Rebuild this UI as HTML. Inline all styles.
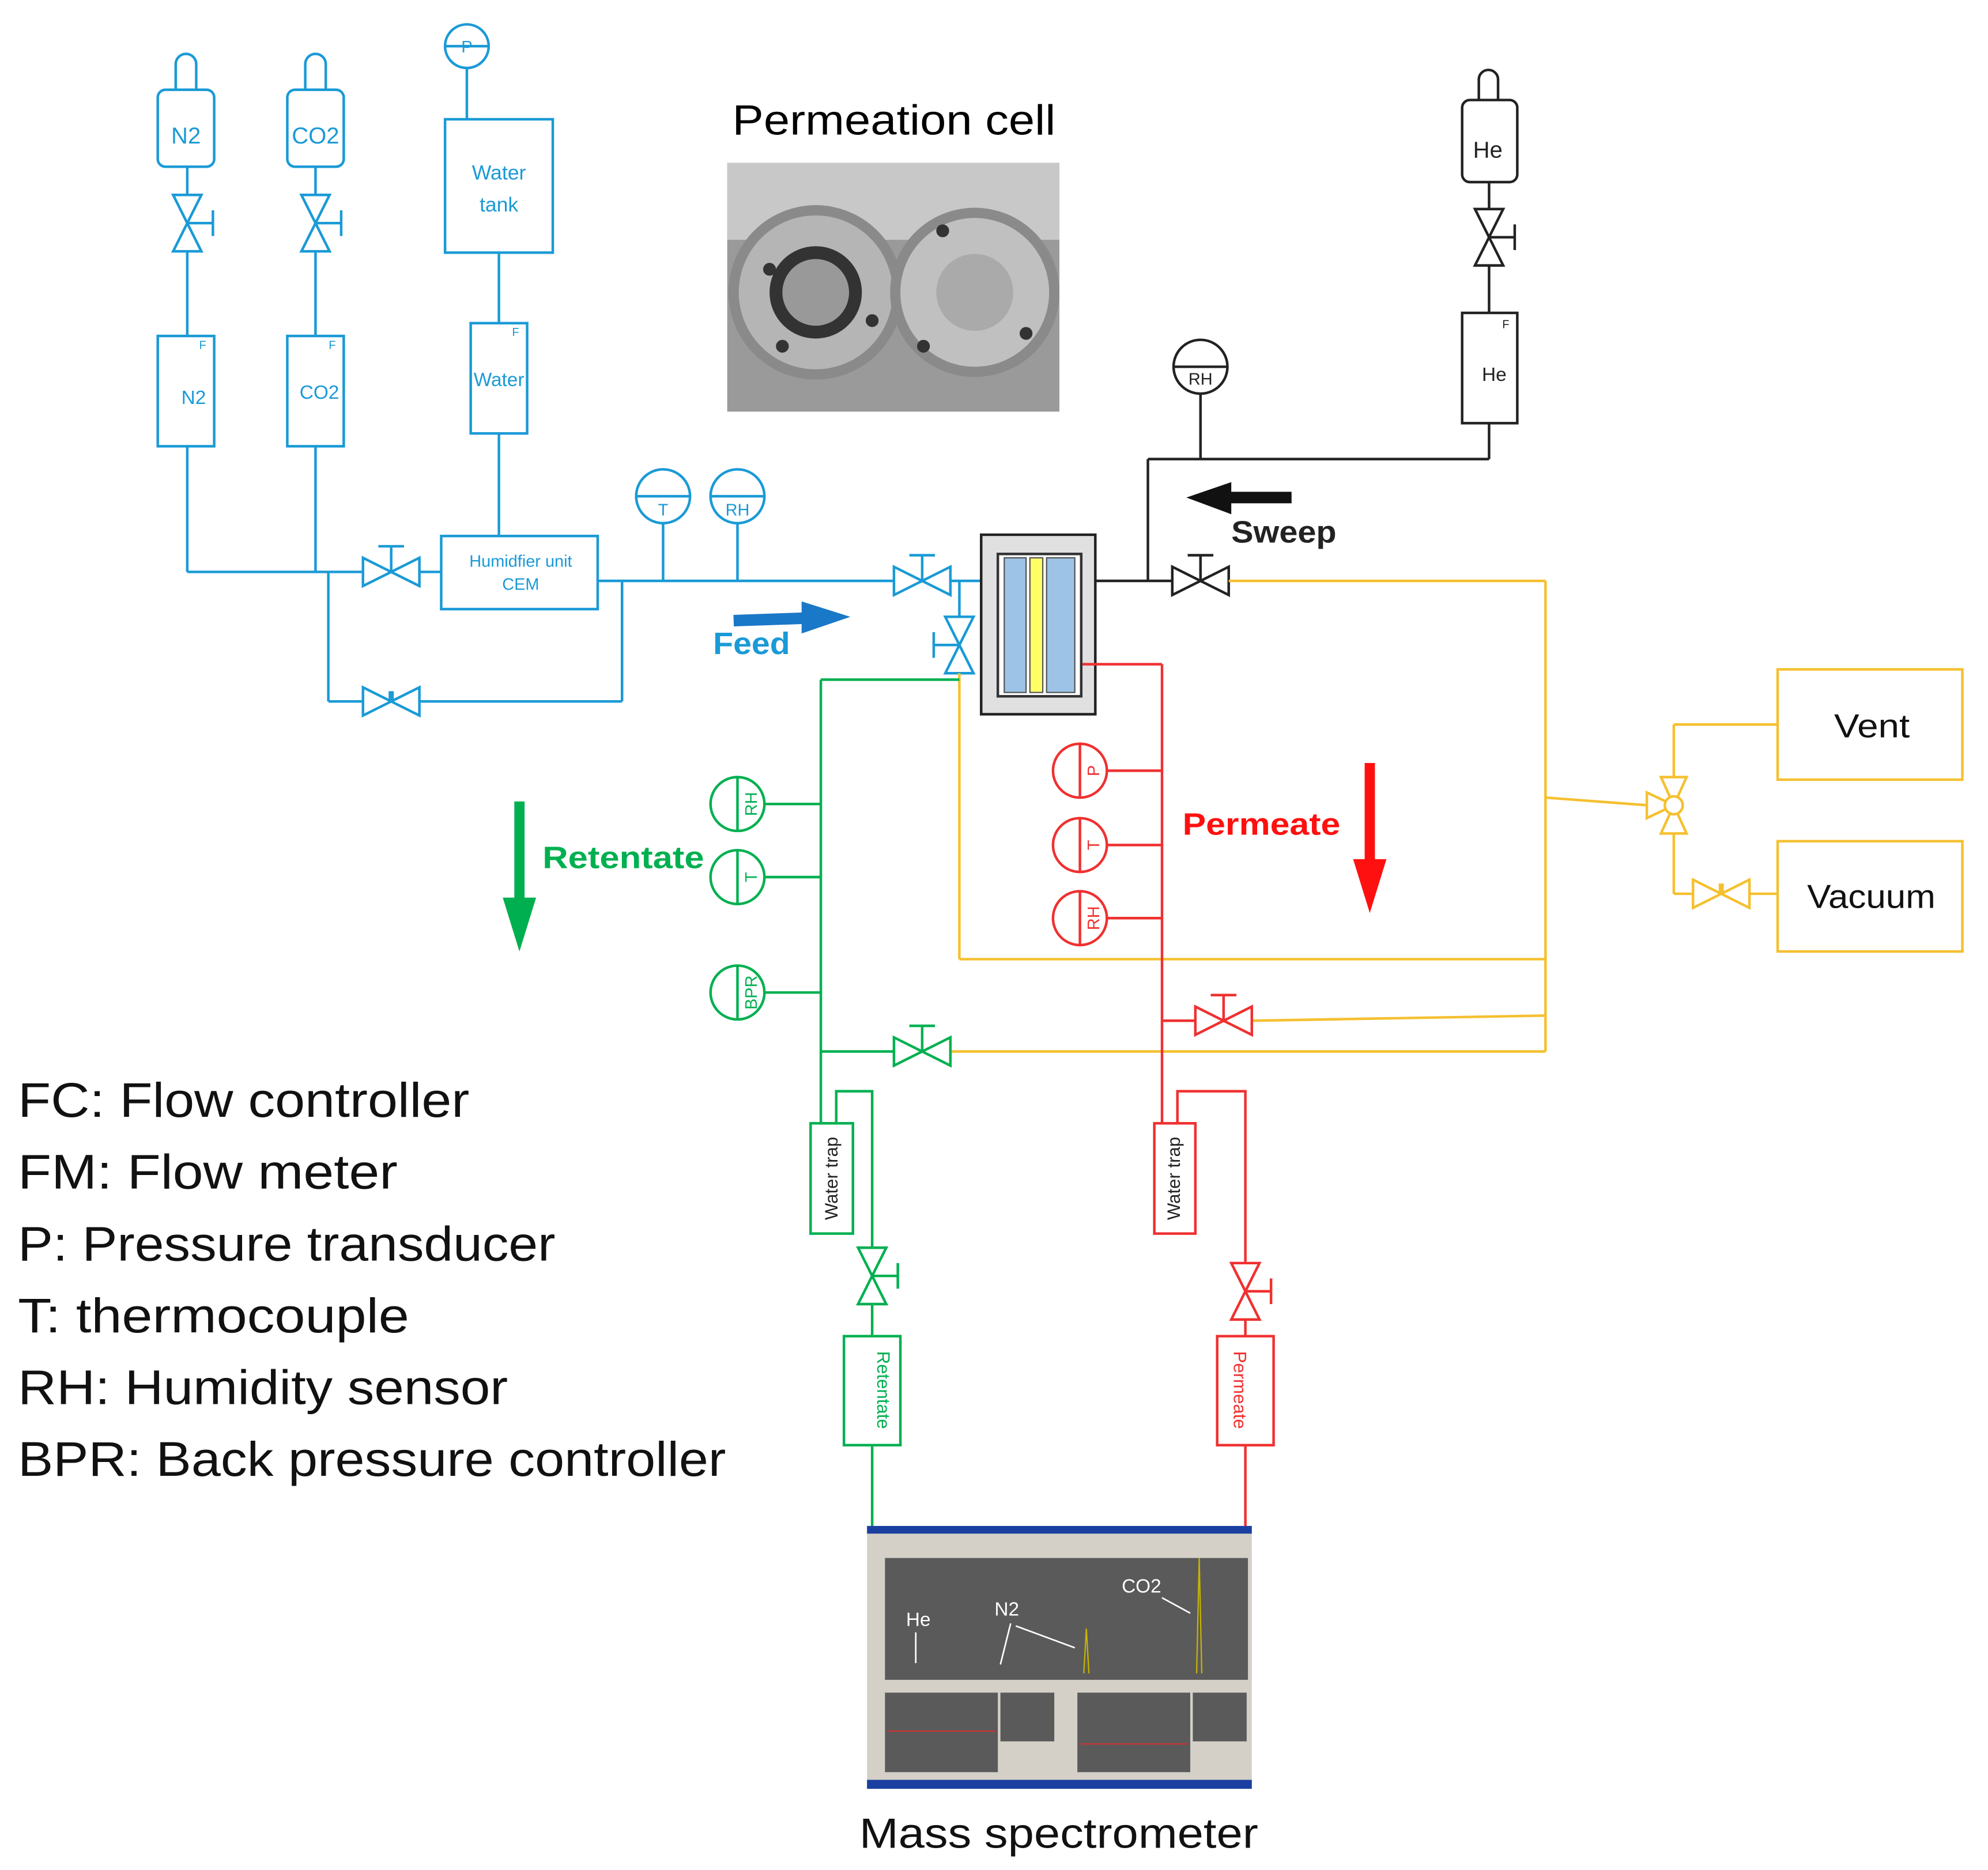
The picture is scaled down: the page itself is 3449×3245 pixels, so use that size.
<!DOCTYPE html>
<html><head><meta charset="utf-8"><style>
html,body{margin:0;padding:0;background:#fff}
svg{display:block}
text{font-family:"Liberation Sans",sans-serif}
</style></head><body>
<svg width="3449" height="3245" viewBox="0 0 1550 1458.3" xmlns="http://www.w3.org/2000/svg">
<defs>
<g id="vv"><polygon points="-11,-22 11,-22 0,0" fill="#fff"/><polygon points="-11,22 11,22 0,0" fill="#fff"/><line x1="0" y1="0" x2="20" y2="0"/><line x1="20" y1="-10" x2="20" y2="10"/></g>
<g id="hv"><polygon points="-22,-11 -22,11 0,0" fill="#fff"/><polygon points="22,-11 22,11 0,0" fill="#fff"/><line x1="0" y1="0" x2="0" y2="-20"/><line x1="-10" y1="-20" x2="10" y2="-20"/></g>
<g id="nv"><polygon points="-22,-11 -22,11 0,0" fill="#fff"/><polygon points="22,-11 22,11 0,0" fill="#fff"/><line x1="0" y1="0" x2="0" y2="-8" stroke-width="4"/></g>
</defs>
<rect width="1550" height="1459" fill="#fff"/>

<!-- BLUE -->
<g stroke="#1a9ad6" stroke-width="2" fill="none">
<path d="M137,70 V50 a8,8 0 0 1 16,0 V70"/>
<rect x="123" y="70" width="44" height="60" rx="6"/>
<line x1="146" y1="130" x2="146" y2="152"/>
<use href="#vv" x="146" y="174"/>
<line x1="146" y1="196" x2="146" y2="262"/>
<rect x="123" y="262" width="44" height="86"/>
<line x1="146" y1="348" x2="146" y2="446"/>
<path d="M238,70 V50 a8,8 0 0 1 16,0 V70"/>
<rect x="224" y="70" width="44" height="60" rx="6"/>
<line x1="246" y1="130" x2="246" y2="152"/>
<use href="#vv" x="246" y="174"/>
<line x1="246" y1="196" x2="246" y2="262"/>
<rect x="224" y="262" width="44" height="86"/>
<line x1="246" y1="348" x2="246" y2="446"/>
<circle cx="364" cy="36" r="17"/><line x1="347" y1="36" x2="381" y2="36"/>
<line x1="364" y1="53" x2="364" y2="93"/>
<rect x="347" y="93" width="84" height="104"/>
<line x1="389" y1="197" x2="389" y2="252"/>
<rect x="367" y="252" width="44" height="86"/>
<line x1="389" y1="338" x2="389" y2="418"/>
<rect x="344" y="418" width="122" height="57"/>
<line x1="146" y1="446" x2="283" y2="446"/>
<use href="#hv" x="305" y="446"/>
<line x1="327" y1="446" x2="344" y2="446"/>
<line x1="256" y1="446" x2="256" y2="547"/>
<line x1="256" y1="547" x2="283" y2="547"/>
<use href="#nv" x="305" y="547"/>
<line x1="327" y1="547" x2="485" y2="547"/>
<line x1="485" y1="453" x2="485" y2="547"/>
<line x1="466" y1="453" x2="697" y2="453"/>
<circle cx="517" cy="387" r="21"/><line x1="496" y1="387" x2="538" y2="387"/><line x1="517" y1="408" x2="517" y2="453"/>
<circle cx="575" cy="387" r="21"/><line x1="554" y1="387" x2="596" y2="387"/><line x1="575" y1="408" x2="575" y2="453"/>
<use href="#hv" x="719" y="453"/>
<line x1="741" y1="453" x2="765" y2="453"/>
<line x1="748" y1="453" x2="748" y2="481"/>
<g transform="translate(748,503) scale(-1,1)"><use href="#vv"/></g>
</g>
<g fill="#1a9ad6" font-size="18" text-anchor="middle">
<text x="145" y="112">N2</text><text x="246" y="112">CO2</text>
<text x="151" y="315" font-size="15">N2</text><text x="249" y="311" font-size="15">CO2</text>
<text x="158" y="272" font-size="9">F</text><text x="259" y="272" font-size="9">F</text><text x="402" y="262" font-size="9">F</text>
<text x="364" y="41" font-size="13">P</text>
<text x="389" y="140" font-size="16">Water</text><text x="389" y="165" font-size="16">tank</text>
<text x="389" y="301" font-size="15">Water</text>
<text x="406" y="442" font-size="13">Humidfier unit</text><text x="406" y="460" font-size="13">CEM</text>
<text x="517" y="402" font-size="13">T</text><text x="575" y="402" font-size="13">RH</text>
<text x="586" y="510" font-size="24" font-weight="bold" textLength="60" lengthAdjust="spacingAndGlyphs">Feed</text>
</g>
<line x1="572" y1="484" x2="630" y2="482" stroke="#1a78c8" stroke-width="9"/>
<polygon points="625,469 663,481 625,494" fill="#1a78c8"/>

<!-- Cell -->
<rect x="765" y="417" width="89" height="140" fill="#e0e0e0" stroke="#222" stroke-width="2"/>
<rect x="778" y="432" width="65" height="111" fill="#fff" stroke="#333" stroke-width="2"/>
<rect x="783" y="435" width="17" height="105" fill="#9dc3e6" stroke="#555"/>
<rect x="803" y="435" width="10" height="105" fill="#ffff66" stroke="#555"/>
<rect x="816" y="435" width="22" height="105" fill="#9dc3e6" stroke="#555"/>

<!-- Photo -->
<text x="571" y="105" font-size="33" textLength="252" lengthAdjust="spacingAndGlyphs">Permeation cell</text>
<rect x="567" y="127" width="259" height="194" fill="#9a9a9a"/>
<rect x="567" y="127" width="259" height="60" fill="#c8c8c8"/>
<circle cx="636" cy="228" r="68" fill="#8a8a8a"/><circle cx="636" cy="228" r="60" fill="#b5b5b5"/>
<circle cx="636" cy="228" r="36" fill="#333"/><circle cx="636" cy="228" r="26" fill="#999"/>
<circle cx="760" cy="228" r="66" fill="#8a8a8a"/><circle cx="760" cy="228" r="58" fill="#c0c0c0"/>
<circle cx="760" cy="228" r="30" fill="#aaa"/>
<g fill="#333"><circle cx="600" cy="210" r="5"/><circle cx="680" cy="250" r="5"/><circle cx="735" cy="180" r="5"/><circle cx="800" cy="260" r="5"/><circle cx="720" cy="270" r="5"/><circle cx="610" cy="270" r="5"/></g>

<!-- BLACK sweep -->
<g stroke="#222" stroke-width="2" fill="none">
<line x1="854" y1="453" x2="914" y2="453"/>
<line x1="895" y1="453" x2="895" y2="358"/>
<line x1="895" y1="358" x2="1161" y2="358"/>
<line x1="1161" y1="358" x2="1161" y2="330"/>
<circle cx="936" cy="286" r="21"/><line x1="915" y1="286" x2="957" y2="286"/><line x1="936" y1="307" x2="936" y2="358"/>
<rect x="1140" y="244" width="43" height="86"/>
<line x1="1161" y1="207" x2="1161" y2="244"/>
<use href="#vv" x="1161" y="185"/>
<line x1="1161" y1="142" x2="1161" y2="163"/>
<path d="M1153,78 V62 a7,7 0 0 1 15,0 V78"/>
<rect x="1140" y="78" width="43" height="64" rx="6"/>
<use href="#hv" x="936" y="453"/>
</g>
<g fill="#222" text-anchor="middle">
<text x="936" y="300" font-size="13">RH</text>
<text x="1165" y="297" font-size="15">He</text>
<text x="1174" y="256" font-size="9">F</text>
<text x="1160" y="123" font-size="18">He</text>
<text x="1001" y="423" font-size="24" font-weight="bold" textLength="82" lengthAdjust="spacingAndGlyphs">Sweep</text>
</g>
<line x1="1007" y1="388" x2="955" y2="388" stroke="#111" stroke-width="9"/>
<polygon points="960,376 925,388 960,401" fill="#111"/>

<!-- YELLOW -->
<g stroke="#f5c030" stroke-width="2" fill="none">
<line x1="958" y1="453" x2="1205" y2="453"/>
<line x1="1205" y1="453" x2="1205" y2="820"/>
<line x1="1205" y1="622" x2="1285" y2="628"/>
<polygon points="1284,618 1284,638 1305,628" fill="#fff"/>
<polygon points="1295,606 1315,606 1305,628" fill="#fff"/>
<polygon points="1295,650 1315,650 1305,628" fill="#fff"/>
<circle cx="1305" cy="628" r="7" fill="#fff"/>
<line x1="1305" y1="606" x2="1305" y2="565"/><line x1="1305" y1="565" x2="1386" y2="565"/>
<line x1="1305" y1="650" x2="1305" y2="697"/><line x1="1305" y1="697" x2="1320" y2="697"/>
<use href="#nv" x="1342" y="697"/>
<line x1="1364" y1="697" x2="1386" y2="697"/>
<rect x="1386" y="522" width="144" height="86"/>
<rect x="1386" y="656" width="144" height="86"/>
<line x1="748" y1="525" x2="748" y2="748"/>
<line x1="748" y1="748" x2="1205" y2="748"/>
<line x1="976" y1="796" x2="1205" y2="792"/>
<line x1="741" y1="820" x2="1205" y2="820"/>
</g>
<g font-size="26" fill="#111">
<text x="1430" y="575" textLength="59" lengthAdjust="spacingAndGlyphs">Vent</text><text x="1409" y="708" textLength="100" lengthAdjust="spacingAndGlyphs">Vacuum</text>
</g>

<!-- GREEN -->
<g stroke="#00b050" stroke-width="2" fill="none">
<line x1="748" y1="530" x2="640" y2="530"/>
<line x1="640" y1="530" x2="640" y2="876"/>
<circle cx="575" cy="627" r="21"/><line x1="575" y1="606" x2="575" y2="648"/><line x1="596" y1="627" x2="640" y2="627"/>
<circle cx="575" cy="684" r="21"/><line x1="575" y1="663" x2="575" y2="705"/><line x1="596" y1="684" x2="640" y2="684"/>
<circle cx="575" cy="774" r="21"/><line x1="575" y1="753" x2="575" y2="795"/><line x1="596" y1="774" x2="640" y2="774"/>
<line x1="640" y1="820" x2="697" y2="820"/>
<use href="#hv" x="719" y="820"/>
<rect x="632" y="876" width="33" height="86"/>
<path d="M652,876 V851 H680 V973"/>
<use href="#vv" x="680" y="995"/>
<line x1="680" y1="1017" x2="680" y2="1042"/>
<rect x="658" y="1042" width="44" height="85"/>
<line x1="680" y1="1127" x2="680" y2="1192"/>
</g>
<g fill="#00b050" font-size="13">
<text transform="translate(590,627) rotate(-90)" text-anchor="middle">RH</text>
<text transform="translate(590,684) rotate(-90)" text-anchor="middle">T</text>
<text transform="translate(590,774) rotate(-90)" text-anchor="middle">BPR</text>
<text transform="translate(653,919) rotate(-90)" text-anchor="middle" font-size="14" fill="#222">Water trap</text>
<text transform="translate(684,1084) rotate(90)" text-anchor="middle" font-size="14">Retentate</text>
<text x="423" y="677" font-size="24" font-weight="bold" textLength="126" lengthAdjust="spacingAndGlyphs">Retentate</text>
</g>
<line x1="405" y1="625" x2="405" y2="705" stroke="#00b050" stroke-width="8"/>
<polygon points="392,700 418,700 405,742" fill="#00b050"/>

<!-- RED -->
<g stroke="#f03030" stroke-width="2" fill="none">
<line x1="844" y1="518" x2="906" y2="518"/>
<line x1="906" y1="518" x2="906" y2="876"/>
<circle cx="842" cy="601" r="21"/><line x1="842" y1="580" x2="842" y2="622"/><line x1="863" y1="601" x2="906" y2="601"/>
<circle cx="842" cy="659" r="21"/><line x1="842" y1="638" x2="842" y2="680"/><line x1="863" y1="659" x2="906" y2="659"/>
<circle cx="842" cy="716" r="21"/><line x1="842" y1="695" x2="842" y2="737"/><line x1="863" y1="716" x2="906" y2="716"/>
<line x1="906" y1="796" x2="932" y2="796"/>
<use href="#hv" x="954" y="796"/>
<rect x="900" y="876" width="32" height="86"/>
<path d="M918,876 V851 H971 V985"/>
<use href="#vv" x="971" y="1007"/>
<line x1="971" y1="1029" x2="971" y2="1042"/>
<rect x="949" y="1042" width="44" height="85"/>
<line x1="971" y1="1127" x2="971" y2="1192"/>
</g>
<g fill="#f03030" font-size="13">
<text transform="translate(857,601) rotate(-90)" text-anchor="middle">P</text>
<text transform="translate(857,659) rotate(-90)" text-anchor="middle">T</text>
<text transform="translate(857,716) rotate(-90)" text-anchor="middle">RH</text>
<text transform="translate(920,919) rotate(-90)" text-anchor="middle" font-size="14" fill="#222">Water trap</text>
<text transform="translate(962,1084) rotate(90)" text-anchor="middle" font-size="14">Permeate</text>
<text x="922" y="651" font-size="24" font-weight="bold" fill="#ff1010" textLength="123" lengthAdjust="spacingAndGlyphs">Permeate</text>
</g>
<line x1="1068" y1="595" x2="1068" y2="675" stroke="#ff1010" stroke-width="8"/>
<polygon points="1055,670 1081,670 1068,712" fill="#ff1010"/>

<!-- Legend -->
<g font-size="38" fill="#111" lengthAdjust="spacingAndGlyphs">
<text x="14" y="871" textLength="352" lengthAdjust="spacingAndGlyphs">FC: Flow controller</text>
<text x="14" y="927" textLength="296" lengthAdjust="spacingAndGlyphs">FM: Flow meter</text>
<text x="14" y="983" textLength="419" lengthAdjust="spacingAndGlyphs">P: Pressure transducer</text>
<text x="14" y="1039" textLength="305" lengthAdjust="spacingAndGlyphs">T: thermocouple</text>
<text x="14" y="1095" textLength="382" lengthAdjust="spacingAndGlyphs">RH: Humidity sensor</text>
<text x="14" y="1151" textLength="552" lengthAdjust="spacingAndGlyphs">BPR: Back pressure controller</text>
</g>

<!-- Mass spec screenshot -->
<rect x="676" y="1190" width="300" height="205" fill="#d4d0c8"/>
<rect x="676" y="1190" width="300" height="6" fill="#1a3fa0"/>
<rect x="676" y="1388" width="300" height="7" fill="#1a3fa0"/>
<rect x="690" y="1215" width="283" height="95" fill="#5a5a5a"/>
<rect x="690" y="1320" width="88" height="62" fill="#5a5a5a"/>
<rect x="780" y="1320" width="42" height="38" fill="#5a5a5a"/>
<rect x="840" y="1320" width="88" height="62" fill="#5a5a5a"/>
<rect x="930" y="1320" width="42" height="38" fill="#5a5a5a"/>
<line x1="692" y1="1350" x2="776" y2="1350" stroke="#c33" stroke-width="1"/>
<line x1="842" y1="1360" x2="926" y2="1360" stroke="#c33" stroke-width="1"/>
<path d="M845,1305 L847,1270 L849,1305 M933,1305 L935,1215 L937,1305" stroke="#c8b400" fill="none"/>
<g fill="#fff" font-size="15" text-anchor="middle">
<text x="716" y="1268">He</text><text x="785" y="1260">N2</text><text x="890" y="1242">CO2</text>
</g>
<g stroke="#fff" stroke-width="1.2" fill="none">
<path d="M714,1273 V1297"/><path d="M788,1266 L780,1298"/><path d="M792,1268 L838,1285"/><path d="M906,1246 L928,1258"/>
</g>
<text x="670" y="1441" font-size="33" fill="#111" textLength="311" lengthAdjust="spacingAndGlyphs">Mass spectrometer</text>
</svg>
</body></html>
